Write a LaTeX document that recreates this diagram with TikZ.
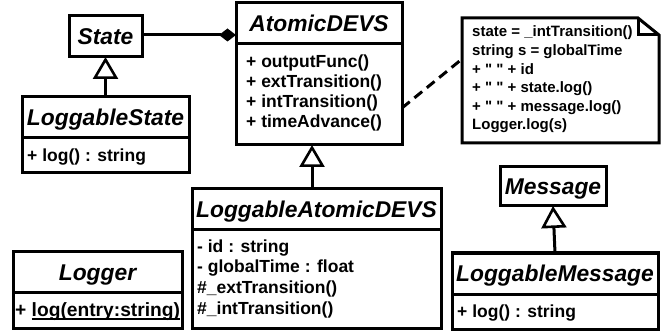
\documentclass[tikz,border=0pt]{standalone}
\usepackage{fontspec}
\setmainfont{Liberation Sans}[Ligatures=TeXOff]
\usetikzlibrary{calc,arrows.meta}
\newcommand\ulbar[1]{\setbox0\hbox{#1}\rlap{\vrule height -2.4pt depth 4.4pt width \wd0}\box0}
\begin{document}
\begin{tikzpicture}[x=1pt,y=-1pt,
  lw/.style={line width=3pt},
  box/.style={draw, lw, inner sep=0pt, outer sep=0pt, anchor=north west},
  ttl/.style={box, font=\fontsize{22.8}{24}\selectfont\bfseries\itshape, text height=16.3pt, text depth=0pt},
  mem/.style={anchor=base west, inner sep=0pt, font=\fontsize{17.5}{20}\selectfont\bfseries},
  ntxt/.style={anchor=base west, inner sep=0pt, font=\fontsize{15}{18}\selectfont\bfseries},
  inh/.style={lw, -{Triangle[open, length=22pt, width=25pt, line width=2.6pt]}},
  comp/.style={lw, -{Diamond[length=17pt, width=13pt]}},
  dep/.style={lw, dash pattern=on 10pt off 6pt}
]
\useasboundingbox (0,0) rectangle (664,331);
% State
\node[ttl, minimum width=73pt, minimum height=41pt] (state) at (69,16) {State};
% AtomicDEVS
\node[ttl, minimum width=166pt, minimum height=41pt] (atomic) at (236,3) {AtomicDEVS};
\node[box, minimum width=166pt, minimum height=101pt] (atomicb) at (236,44) {};
\foreach \t [count=\i] in {+ outputFunc(), + extTransition(), + intTransition(), + timeAdvance()}
  \node[mem] (am\i) at (246,{68+20*(\i-1)}) {\t};
% LoggableState
\node[ttl, minimum width=167pt, minimum height=41pt] (lstate) at (22,97) {LoggableState};
\node[box, minimum width=167pt, minimum height=35pt] (lstateb) at (22,138) {};
\node[mem] (lsm) at (27,162) {+ log() : string};
% LoggableAtomicDEVS
\node[ttl, minimum width=249pt, minimum height=41pt] (latomic) at (192,189) {LoggableAtomicDEVS};
\node[box, minimum width=249pt, minimum height=98pt] (latomicb) at (192,230) {};
\foreach \t [count=\i] in {- id : string, - globalTime : float, \#\_extTransition(), \#\_intTransition()}
  \node[mem] (lam\i) at (197,{252+20.7*(\i-1)}) {\t};
% Message
\node[ttl, minimum width=106pt, minimum height=39pt] (msg) at (500,167) {Message};
% LoggableMessage
\node[ttl, minimum width=206pt, minimum height=41pt] (lmsg) at (452,253) {LoggableMessage};
\node[box, minimum width=206pt, minimum height=35pt] (lmsgb) at (452,294) {};
\node[mem] (lmm) at (457,317) {+ log() : string};
% Logger
\node[ttl, minimum width=169pt, minimum height=40pt] (logger) at (13,252) {Logger};
\node[box, minimum width=169pt, minimum height=36pt] (loggerb) at (13,292) {};
\node[mem, font=\fontsize{19.2}{20}\selectfont\bfseries] (lgm) at (15,316) {+ \ulbar{log(entry:string)}};
% Note
\node[inner sep=0pt, outer sep=0pt, anchor=north west, minimum width=197pt, minimum height=125pt] (note) at (462,18) {};
\draw[lw, line join=miter] (note.north west) -- ($(note.north east)+(-21,0)$) -- ($(note.north east)+(0,17)$)
  -- (note.south east) -- (note.south west) -- cycle;
\draw[lw, line join=miter] ($(note.north east)+(-21,0)$) -- ($(note.north east)+(-21,17)$) -- ($(note.north east)+(0,17)$);
\foreach \t [count=\i] in {state = \_intTransition(), string s = globalTime, + " " + id, + " " + state.log(), + " " + message.log(), Logger.log(s)}
  \node[ntxt] (nt\i) at (472,{37+18.6*(\i-1)}) {\t};
% connectors
\coordinate (dtip) at ($(atomic.north west)+(0,32)$);
\draw[comp] (state.east |- dtip) -- (dtip);
\draw[inh] (lstate.north) -- (state.south);
\coordinate (ax) at (312,0);
\draw[inh] (latomic.north -| ax) -- (atomicb.south -| ax);
\draw[inh] (lmsg.north) -- (msg.south);
\draw[dep] ($(atomicb.north east)+(0,64)$) -- ($(note.north west)+(0,41)$);
\end{tikzpicture}
\end{document}
